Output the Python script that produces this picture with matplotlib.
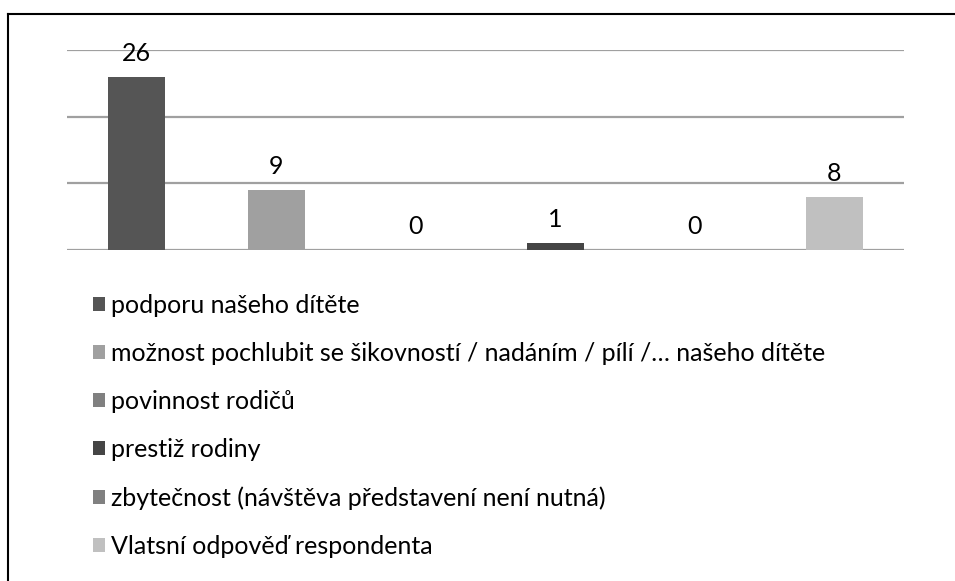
import matplotlib.pyplot as plt
from matplotlib.lines import Line2D

categories = ["podporu našeho dítěte",
              "možnost pochlubit se šikovností / nadáním / pílí /… našeho dítěte",
              "povinnost rodičů",
              "prestiž rodiny",
              "zbytečnost (návštěva představení není nutná)",
              "Vlatsní odpověď respondenta"]
values = [26, 9, 0, 1, 0, 8]
colors = ["#555555", "#a0a0a0", "#808080", "#454545", "#808080", "#c0c0c0"]

plt.rcParams['font.family'] = ['Lato', 'DejaVu Sans']

W, H = 955, 581
fig = plt.figure(figsize=(W / 100, H / 100), dpi=100)
ax = fig.add_axes([67 / W, 1 - 250 / H, (904 - 67) / W, 200 / H])

for i, (name, v, c) in enumerate(zip(categories, values, colors)):
    ax.bar(i, v, width=0.41, color=c, label=name, zorder=3)
    ax.annotate(str(v), (i, v), xytext=(0, 17), textcoords="offset points",
                ha="center", va="center", fontsize=18, color="black", zorder=4)

ax.set_xlim(-0.5, 5.5)
ax.set_ylim(0, 30)
ax.set_yticks([0, 10, 20, 30])
ax.grid(axis="y", color="#a0a0a0", linewidth=1.6, zorder=0)
ax.tick_params(left=False, bottom=False, labelleft=False, labelbottom=False)
for s in ax.spines.values():
    s.set_visible(False)

fig.legend(loc="upper left", bbox_to_anchor=(93 / W, 1 - 294 / H),
           frameon=False, fontsize=18, handlelength=0.48, handleheight=0.48,
           handletextpad=0.25, labelspacing=1.0, borderaxespad=0, borderpad=0)

# outer chart border
fig.add_artist(Line2D([8 / W, 8 / W], [0, 1 - 13.5 / H], color="black",
                      linewidth=1.5, transform=fig.transFigure))
fig.add_artist(Line2D([8 / W, 1], [1 - 13.5 / H, 1 - 13.5 / H], color="black",
                      linewidth=1.5, transform=fig.transFigure))

fig.savefig("out.png", dpi=100)
